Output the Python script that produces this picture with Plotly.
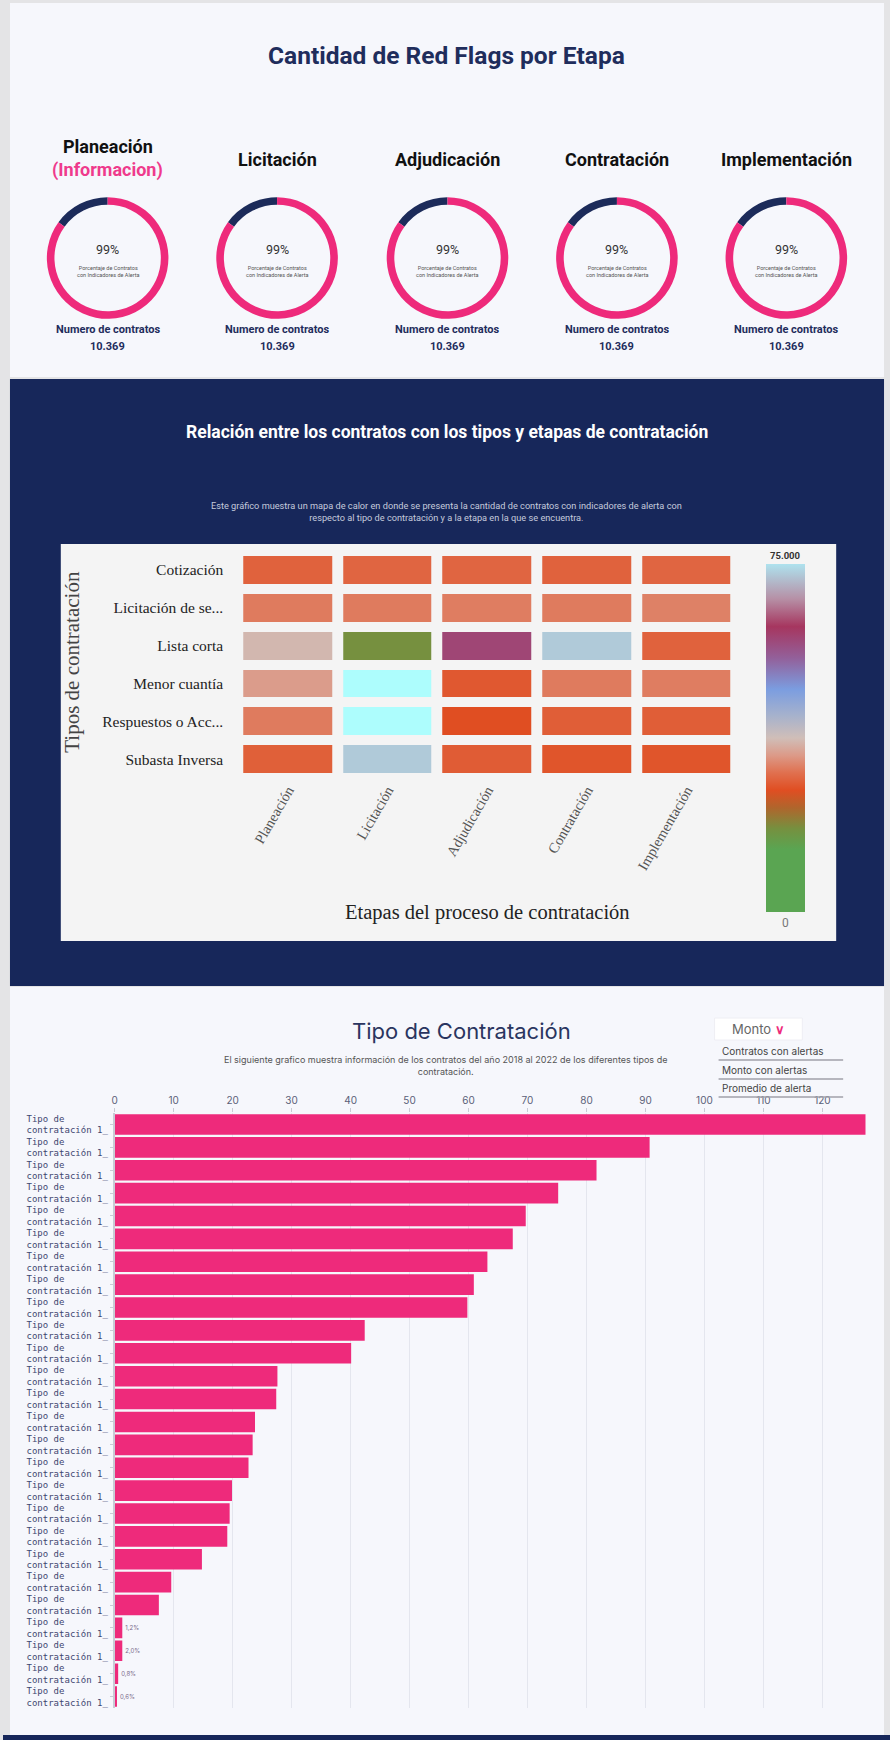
import plotly.graph_objects as go

W, H = 890, 1740


def px(x):
    return x / W


def py(y):
    return 1 - y / H


# ---------------- Data ----------------
etapas = ["Planeación", "Licitación", "Adjudicación", "Contratación", "Implementación"]
pct_alerta = ["99%", "99%", "99%", "99%", "99%"]
num_contratos = ["10.369", "10.369", "10.369", "10.369", "10.369"]
donut_oscuro = [15, 15, 15, 15, 15]
donut_rosa = [85, 85, 85, 85, 85]

tipos = ["Cotización", "Licitación de se...", "Lista corta", "Menor cuantía",
         "Respuestos o Acc...", "Subasta Inversa"]
z_heat = [
    [28500, 28800, 28800, 28500, 28800],
    [31000, 31000, 31200, 31000, 31500],
    [36800, 18000, 59000, 72800, 28500],
    [34000, None, 27400, 31000, 31200],
    [31000, None, 26250, 28000, 28000],
    [28200, 72800, 27800, 27000, 27000],
]

bar_values = [127.3, 90.7, 81.7, 75.2, 69.7, 67.5, 63.2, 60.9, 59.8, 42.4, 40.1,
              27.6, 27.4, 23.8, 23.4, 22.7, 19.9, 19.5, 19.1, 14.8, 9.6, 7.5,
              1.3, 1.3, 0.6, 0.4]
bar_labels = ["Tipo de" + "\u00a0" * 8 + "<br>contratación 1_"] * 26
bar_text = [""] * 22 + ["1,2%", "2,0%", "0,8%", "0,6%"]
x_ticks = list(range(0, 130, 10))

donut_cx = [105, 275, 446, 616, 786]

PINK = "#ee2a7b"
NAVY = "#17275a"

fig = go.Figure()

# ---------------- Donuts ----------------
R = 61
CY = 258
for i, cx in enumerate(donut_cx):
    fig.add_trace(go.Pie(
        values=[donut_oscuro[i], donut_rosa[i]],
        marker=dict(colors=["#1c2b5a", PINK], line=dict(width=0)),
        hole=0.875, sort=False, direction="clockwise", rotation=-54,
        textinfo="none", hoverinfo="skip", showlegend=False,
        domain=dict(x=[px(cx - R), px(cx + R)], y=[py(CY + R), py(CY - R)]),
    ))

# ---------------- Heatmap ----------------
colorscale = [
    [0.00, "#5aa552"], [0.18, "#5aa552"], [0.24, "#76903f"], [0.30, "#b0652c"],
    [0.35, "#e04e22"], [0.40, "#e0704f"], [0.45, "#dc9a88"], [0.50, "#d0beb8"],
    [0.56, "#a9b3cb"], [0.64, "#7b9de0"], [0.73, "#93609a"], [0.82, "#a6365f"],
    [0.90, "#b690a6"], [1.00, "#aee2ee"],
]
fig.add_trace(go.Heatmap(
    z=z_heat, x=etapas, y=tipos, zmin=0, zmax=75000,
    colorscale=colorscale, xgap=11, ygap=10, hoverongaps=False,
    xaxis="x", yaxis="y",
    colorbar=dict(x=px(766), xanchor="left", thickness=39, thicknessmode="pixels",
                  len=348 / H, lenmode="fraction", y=py(738), yanchor="middle",
                  showticklabels=False, ticks="", outlinewidth=0, xpad=0, ypad=0),
))
z_missing = [[1 if v is None else None for v in row] for row in z_heat]
fig.add_trace(go.Heatmap(
    z=z_missing, x=etapas, y=tipos, colorscale=[[0, "#adfdfd"], [1, "#adfdfd"]],
    showscale=False, xgap=11, ygap=10, hoverinfo="skip", xaxis="x", yaxis="y",
))

# ---------------- Bars ----------------
fig.add_trace(go.Bar(
    x=bar_values, y=list(range(len(bar_values))), orientation="h",
    marker=dict(color=PINK, line=dict(width=0)), width=0.9,
    text=bar_text, textposition="outside", cliponaxis=False,
    textfont=dict(size=6, color="#7a6a8a", family="Inter"),
    xaxis="x2", yaxis="y2", showlegend=False, hoverinfo="x",
))

# ---------------- Shapes ----------------
def rect(x0, y0, x1, y1, fill, line=None):
    return dict(type="rect", xref="paper", yref="paper", x0=px(x0), x1=px(x1),
                y0=py(y1), y1=py(y0), fillcolor=fill, layer="below",
                line=line or dict(width=0))


shapes = [
    rect(7, 3, 884, 377, "#f6f7fc"),
    rect(7, 379, 884, 986, NAVY),
    rect(58, 544, 836, 941, "#f4f4f4"),
    rect(7, 987, 884, 1735, "#f6f7fc"),
    rect(0, 1735, 890, 1740, NAVY),
    rect(714, 1018, 802, 1040, "#ffffff", dict(color="#eeeef4", width=1)),
]
for yl in [1060, 1079, 1097]:
    shapes.append(dict(type="line", xref="paper", yref="paper", x0=px(718), x1=px(843),
                       y0=py(yl), y1=py(yl), line=dict(color="#a0a0aa", width=1.5)))

# ---------------- Annotations ----------------
ann = []


def text(x, y, s, size, color, family="Roboto", xanchor="center", angle=0):
    ann.append(dict(x=px(x), y=py(y), xref="paper", yref="paper", text=s,
                    showarrow=False, xanchor=xanchor, yanchor="middle",
                    textangle=angle, font=dict(size=size, color=color, family=family)))


text(445, 55, "<b>Cantidad de Red Flags por Etapa</b>", 24.5, "#1f2d5c")
for i, cx in enumerate(donut_cx):
    if i == 0:
        text(cx, 146, "<b>" + etapas[i] + "</b>", 18, "#111111")
        text(cx, 170, "<b>(Informacion)</b>", 18, "#ef3a8c")
    else:
        text(cx, 159, "<b>" + etapas[i] + "</b>", 18, "#111111")
    text(cx, 250, pct_alerta[i], 12.5, "#333333")
    text(cx, 272, "Porcentaje de Contratos<br>con Indicadores de Alerta", 5.5, "#555555")
    text(cx, 329, "<b>Numero de contratos</b>", 11, "#1f2d5c")
    text(cx, 347, "<b>" + num_contratos[i] + "</b>", 11, "#1f2d5c")

text(445, 432, "<b>Relación entre los contratos con los tipos y etapas de contratación</b>", 17.5, "#ffffff")
text(445, 511, "Este gráfico muestra un mapa de calor en donde se presenta la cantidad de contratos con indicadores de alerta con<br>respecto al tipo de contratación y a la etapa en la que se encuentra.", 9.2, "#c5cadc")
text(486, 912, "Etapas del proceso de contratación", 20.5, "#222222", "Liberation Serif")
text(69, 662, "Tipos de contratación", 21, "#444444", "Liberation Serif", angle=-90)
text(785, 555, "<b>75.000</b>", 9.5, "#333333", "Roboto")
text(785, 923, "0", 12, "#777777", "Roboto")

text(460, 1031, "Tipo de Contratación", 22, "#2a3560", "Inter")
text(444, 1065, "El siguiente grafico muestra información de los contratos del año 2018 al 2022 de los diferentes tipos de<br>contratación.", 9, "#555555", "Inter")
text(758, 1029, "Monto <span style='color:#ee2a7b'><b>∨</b></span>", 13, "#666666", "Inter")
text(719, 1051, "Contratos con alertas", 10, "#444444", "Inter", xanchor="left")
text(719, 1070, "Monto con alertas", 10, "#444444", "Inter", xanchor="left")
text(719, 1088, "Promedio de alerta", 10, "#444444", "Inter", xanchor="left")

fig.update_layout(
    width=W, height=H, margin=dict(l=0, r=0, t=0, b=0),
    paper_bgcolor="#e4e4e6", plot_bgcolor="rgba(0,0,0,0)",
    shapes=shapes, annotations=ann, showlegend=False, bargap=0.1,
    xaxis=dict(domain=[px(236), px(736)], anchor="y", tickangle=-60,
               tickfont=dict(family="Liberation Serif", size=14.5, color="#555555"),
               showgrid=False, zeroline=False, ticks="", fixedrange=True),
    yaxis=dict(domain=[py(778), py(551)], anchor="x", autorange="reversed",
               tickfont=dict(family="Liberation Serif", size=15.5, color="#222222"),
               showgrid=False, zeroline=False, ticks="", ticklabelstandoff=14),
    xaxis2=dict(domain=[px(112), px(866)], anchor="y2", side="top", range=[0, 127.4],
                tickvals=x_ticks, tickfont=dict(family="Inter", size=10, color="#5a5f78"),
                gridcolor="#e4e6ee", zeroline=False, ticks="outside", ticklen=4,
                tickcolor="#c8cad4", showline=False),
    yaxis2=dict(domain=[py(1708), py(1113)], anchor="x2", range=[25.5, -0.5],
                tickvals=list(range(len(bar_values))), ticktext=bar_labels,
                tickfont=dict(family="DejaVu Sans Mono", size=9, color="#3e4670"),
                showline=True, linecolor="#c9cbd6", linewidth=2, showgrid=False,
                zeroline=False, ticks="outside", ticklen=3, tickcolor="#c9cbd6"),
)

fig.write_html("out.html", config={"displayModeBar": False},
               post_script="document.body.style.margin='0';document.body.style.background='#e4e4e6';")
